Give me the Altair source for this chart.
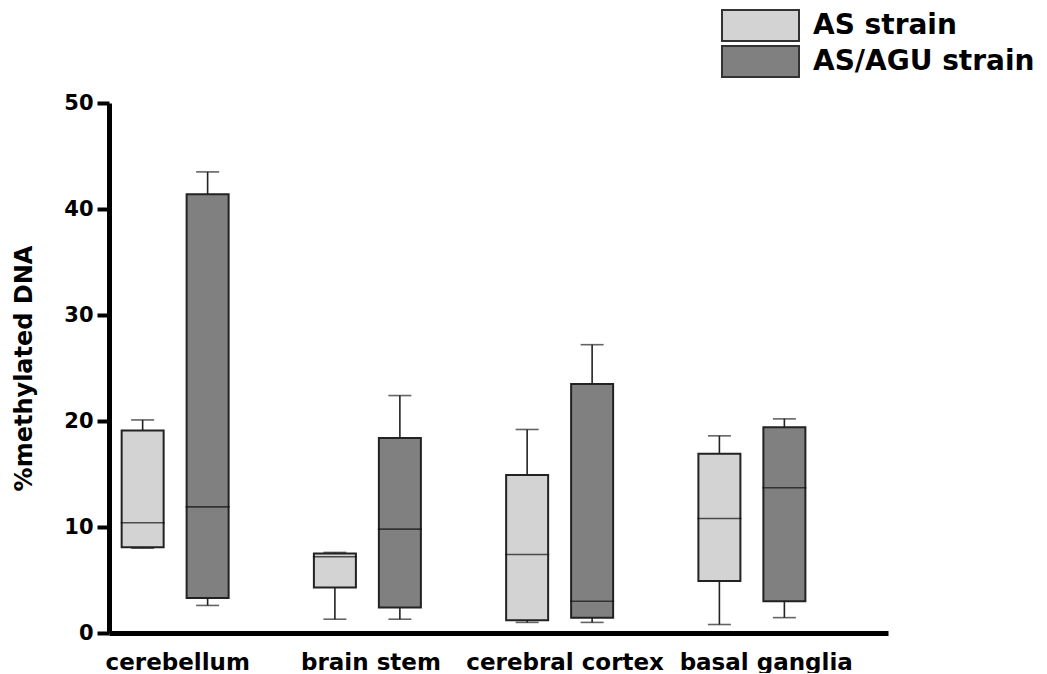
import json
import altair as alt
import pandas as pd

regions = ["cerebellum", "brain stem", "cerebral cortex", "basal ganglia"]
strains = ["AS strain", "AS/AGU strain"]

# box statistics (% methylated DNA)
as_min = [8.0, 1.3, 1.0, 0.8]
as_q1 = [8.1, 4.3, 1.2, 4.9]
as_med = [10.4, 7.2, 7.4, 10.8]
as_q3 = [19.1, 7.5, 14.9, 16.9]
as_max = [20.1, 7.6, 19.2, 18.6]

agu_min = [2.6, 1.3, 1.0, 1.45]
agu_q1 = [3.3, 2.4, 1.45, 3.0]
agu_med = [11.9, 9.8, 3.0, 13.7]
agu_q3 = [41.4, 18.4, 23.5, 19.4]
agu_max = [43.5, 22.4, 27.2, 20.2]

strain_offset = [0.149, 0.487]            # position of each strain inside a region slot
label_offsets = [0.329, 0.334, 0.344, 0.39]  # label position inside each region slot
fill_colors = ["#d3d3d3", "#808080"]
y_ticks = [0, 10, 20, 30, 40, 50]

rows = []
stats = [
    (as_min, as_q1, as_med, as_q3, as_max),
    (agu_min, agu_q1, agu_med, agu_q3, agu_max),
]
for si, s in enumerate(strains):
    mn, q1, md, q3, mx = stats[si]
    for ri, r in enumerate(regions):
        rows.append({
            "region": r,
            "strain": s,
            "pos": ri + strain_offset[si],
            "min": mn[ri], "q1": q1[ri], "median": md[ri],
            "q3": q3[ri], "max": mx[ri],
        })
df = pd.DataFrame(rows)

FONT = "DejaVu Sans"
label_expr = json.dumps(regions) + "[floor(datum.value)]"

x_enc = alt.X(
    "pos:Q",
    scale=alt.Scale(domain=[0, len(regions)], nice=False, zero=False),
    axis=alt.Axis(
        values=[i + label_offsets[i] for i in range(len(regions))],
        labelExpr=label_expr,
        title=None, ticks=False, grid=False,
        domainColor="black", domainWidth=5,
        labelFont=FONT, labelFontWeight="bold", labelFontSize=23,
        labelColor="black", labelPadding=18, labelLimit=500,
    ),
)
y_scale = alt.Scale(domain=[0, 50], nice=False)
y_axis = alt.Axis(
    values=y_ticks, grid=False,
    title="%methylated DNA",
    titleFont=FONT, titleFontWeight="bold", titleFontSize=24,
    titleColor="black", titlePadding=27,
    labelFont=FONT, labelFontWeight="bold", labelFontSize=21,
    labelColor="black", labelPadding=4,
    tickSize=12, tickWidth=4, tickColor="black",
    domainColor="black", domainWidth=5,
)

base = alt.Chart(df)

whisker = base.mark_rule(color="#222222", strokeWidth=1.6).encode(
    x=x_enc,
    y=alt.Y("min:Q", scale=y_scale, axis=y_axis),
    y2="max:Q",
)

box = base.mark_bar(size=42, stroke="#222222", strokeWidth=2, opacity=1).encode(
    x="pos:Q",
    y="q1:Q",
    y2="q3:Q",
    fill=alt.Fill(
        "strain:N",
        scale=alt.Scale(domain=strains, range=fill_colors),
        legend=alt.Legend(
            title=None, orient="none", legendX=635, legendY=-94,
            symbolType="M-2.5,-1H2.5V1H-2.5Z", symbolSize=949,
            symbolStrokeColor="#333333", symbolStrokeWidth=2,
            symbolOpacity=1,
            labelFont=FONT, labelFontWeight="bold", labelFontSize=28,
            labelColor="black", labelOffset=36, rowPadding=-4,
            labelLimit=500,
        ),
    ),
)

median = base.mark_tick(orient="horizontal", size=44, thickness=1.6, color="#111111").encode(
    x="pos:Q",
    y="median:Q",
)

caps = base.transform_fold(["min", "max"], as_=["stat", "value"]).mark_tick(
    orient="horizontal", size=23, thickness=1.6, color="#222222"
).encode(
    x="pos:Q",
    y="value:Q",
)

chart = alt.layer(whisker, box, median, caps).properties(
    width=779, height=530,
    autosize="none",
    padding={"left": 101, "top": 95, "right": 151, "bottom": 40},
).configure(background="white").configure_view(strokeWidth=0, stroke="transparent")

chart.save("out.html", embed_options={"renderer": "svg", "actions": False})
